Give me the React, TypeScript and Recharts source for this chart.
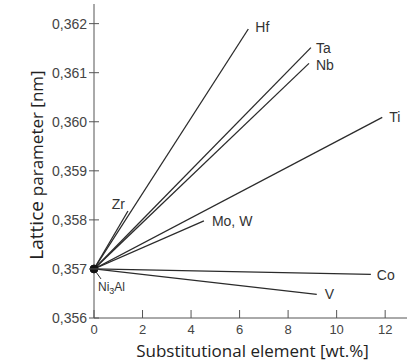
import { LineChart, Line, XAxis, YAxis, ReferenceDot } from 'recharts';

// lattice parameter of Ni3Al vs. added element
const elements = ['Hf', 'Ta', 'Nb', 'Ti', 'Zr', 'Mo, W', 'Co', 'V'];
const endWt = [6.36, 8.94, 8.86, 11.88, 1.4, 4.53, 11.41, 9.18];
const endLattice = [0.36189, 0.36151, 0.36119, 0.36009, 0.35818, 0.35798, 0.35689, 0.35648];
const baseWt = 0;
const baseLattice = 0.357;

const xTicks = [0, 2, 4, 6, 8, 10, 12];
const yTicks = [0.356, 0.357, 0.358, 0.359, 0.36, 0.361, 0.362];

// where each element name sits relative to the end of its line
const labelOffset: Record<string, { dx: number; dy: number; anchor: 'start' | 'end' }> = {
  Hf: { dx: 7, dy: 3, anchor: 'start' },
  Ta: { dx: 5, dy: 5, anchor: 'start' },
  Nb: { dx: 7, dy: 7, anchor: 'start' },
  Ti: { dx: 7, dy: 5, anchor: 'start' },
  Zr: { dx: -3, dy: -2, anchor: 'end' },
  'Mo, W': { dx: 8, dy: 5, anchor: 'start' },
  Co: { dx: 6, dy: 6, anchor: 'start' },
  V: { dx: 8, dy: 5, anchor: 'start' },
};

const INK = '#2b2b2b';
const AXIS = '#555';

const XTick = ({ x, y, payload }: any) => (
  <g>
    <line x1={x} x2={x} y1={y} y2={y - 8} stroke={AXIS} />
    <text x={x} y={y} dy={16} textAnchor="middle" fontSize={13} fill="#444" fontFamily="Liberation Sans, Arial, sans-serif">
      {payload.value}
    </text>
  </g>
);

const YTick = ({ x, y, payload }: any) => (
  <g>
    <line x1={x - 5} x2={x + 5} y1={y} y2={y} stroke={AXIS} />
    <text x={x - 7} y={y} dy={5} textAnchor="end" fontSize={14} fill="#444" fontFamily="Liberation Sans, Arial, sans-serif">
      {Number(payload.value).toFixed(3).replace('.', ',')}
    </text>
  </g>
);

/** Element name drawn only at the far end of each line. */
const endLabel = (name: string) => (props: any) => {
  if (props.index !== 1) return null;
  const o = labelOffset[name];
  return (
    <text
      x={props.x + o.dx}
      y={props.y + o.dy}
      textAnchor={o.anchor}
      fontSize={14}
      fill="#333"
      fontFamily="Liberation Sans, Arial, sans-serif"
    >
      {name}
    </text>
  );
};

const NiAlLabel = ({ viewBox }: any) => {
  // viewBox is the dot's bounding box
  const cx = viewBox.x + viewBox.width / 2;
  const cy = viewBox.y + viewBox.height / 2;
  return (
    <g>
      <line x1={cx + 2} y1={cy + 3} x2={cx + 7} y2={cy + 10} stroke={INK} />
      <text x={cx + 4} y={cy + 22} fontSize={12} fill="#333" fontFamily="Liberation Sans, Arial, sans-serif">
        Ni
        <tspan fontSize={9} dy={3}>3</tspan>
        <tspan dy={-3}>Al</tspan>
      </text>
    </g>
  );
};

export default function App() {
  const series = elements.map((name, i) => ({
    name,
    data: [
      { x: baseWt, y: baseLattice },
      { x: endWt[i], y: endLattice[i] },
    ],
  }));

  return (
    <div style={{ position: 'absolute', left: 0, top: 0, width: 407, height: 362, background: '#fff' }}>
      <LineChart width={407} height={362} margin={{ top: 4, right: 0, bottom: 0, left: 0 }}>
        <XAxis
          dataKey="x"
          type="number"
          domain={[0, 12.9]}
          ticks={xTicks}
          allowDataOverflow
          height={44}
          tickSize={0}
          tickMargin={0}
          tick={<XTick />}
          stroke={AXIS}
          label={({ viewBox }: any) => (
            <text
              x={viewBox.x + viewBox.width / 2 + 2}
              y={357}
              textAnchor="middle"
              fontSize={17}
              fill="#222"
              fontFamily="Open Sans, sans-serif"
            >
              Substitutional element [wt.%]
            </text>
          )}
        />
        <YAxis
          type="number"
          domain={[0.356, 0.3624]}
          ticks={yTicks}
          allowDataOverflow
          width={94}
          tickSize={0}
          tickMargin={0}
          tick={<YTick />}
          stroke={AXIS}
          label={({ viewBox }: any) => {
            const cy = viewBox.y + viewBox.height / 2 + 4;
            return (
              <text
                x={43}
                y={cy}
                transform={`rotate(-90, 43, ${cy})`}
                textAnchor="middle"
                fill="#222"
                fontFamily="Open Sans, sans-serif"
              >
                <tspan fontSize={19}>Lattice </tspan>
                <tspan fontSize={17}>parameter [nm]</tspan>
              </text>
            );
          }}
        />
        {series.map((s) => (
          <Line
            key={s.name}
            data={s.data}
            dataKey="y"
            stroke={INK}
            strokeWidth={1.3}
            dot={false}
            isAnimationActive={false}
            label={endLabel(s.name)}
          />
        ))}
        <ReferenceDot
          x={baseWt}
          y={baseLattice}
          r={4}
          fill="#111"
          stroke="#111"
          ifOverflow="visible"
          label={<NiAlLabel />}
        />
      </LineChart>
    </div>
  );
}
